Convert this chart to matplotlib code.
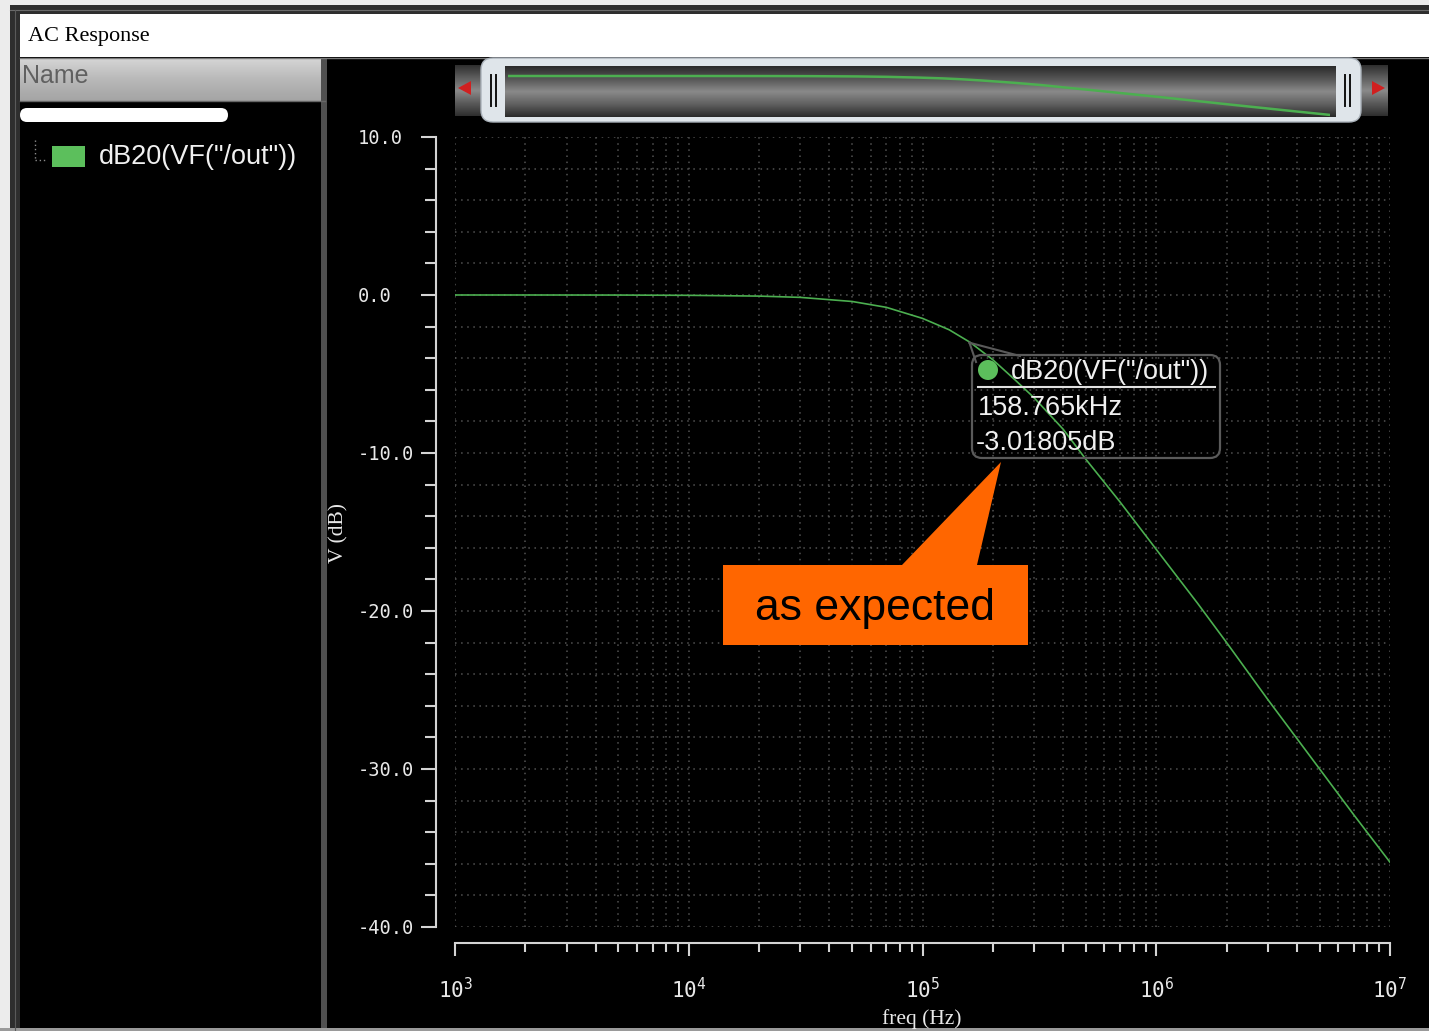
import numpy as np
import matplotlib
matplotlib.use("Agg")
import matplotlib.pyplot as plt
from matplotlib.patches import Rectangle, FancyBboxPatch, Polygon, Circle
from matplotlib.colors import LinearSegmentedColormap
from matplotlib.ticker import LogLocator, MultipleLocator, NullFormatter

plt.rcParams['mathtext.default'] = 'regular'

W, H = 1429, 1031

# ---- data ----
freq_hz = [1e3, 2e3, 5e3, 1e4, 2e4, 3e4, 5e4, 7e4, 1e5, 1.3e5, 1.6e5, 2e5,
           2.5e5, 3e5, 4e5, 5e5, 7e5, 1e6, 1.5e6, 2e6, 3e6, 5e6, 7e6, 1e7]
gain_db = [0.0, 0.0, -0.004, -0.02, -0.07, -0.15, -0.41, -0.78, -1.48, -2.2,
           -3.0, -4.1, -5.4, -6.5, -8.5, -10.4, -13.1, -16.1, -19.5, -22.0,
           -25.6, -30.0, -32.9, -35.9]
y_major = [-40, -30, -20, -10, 0, 10]
y_labels = ['-40.0', '-30.0', '-20.0', '-10.0', '0.0', '10.0']
x_major = [1e3, 1e4, 1e5, 1e6, 1e7]
x_labels = [r'$\mathregular{10^{3}}$', r'$\mathregular{10^{4}}$',
            r'$\mathregular{10^{5}}$', r'$\mathregular{10^{6}}$',
            r'$\mathregular{10^{7}}$']
marker_freq = 158765.0
marker_db = -3.01805
trace_name = 'dB20(VF("/out"))'
window_title = 'AC Response'
x_title = 'freq (Hz)'
y_title = 'V (dB)'
note_text = 'as expected'

GREEN = '#4caf50'
SWATCH = '#5cbf5c'
ORANGE = '#ff6600'
AXC = '#d4d4d4'
SANS = 'Liberation Sans'
SERIF = 'Liberation Serif'
MONO = 'DejaVu Sans Mono'


def fx(x):
    return x / W


def fy(y):
    return 1 - y / H


def rect(ax, x0, y0, x1, y1, color, **kw):
    ax.add_patch(Rectangle((x0, y0), x1 - x0, y1 - y0, facecolor=color,
                           edgecolor='none', **kw))


def vgrad(ax, x0, x1, y0, y1, colors, zorder=1):
    cmap = LinearSegmentedColormap.from_list('g', colors)
    arr = np.linspace(0, 1, 256).reshape(-1, 1)
    ax.imshow(arr, extent=(x0, x1, y1, y0), origin='upper', aspect='auto',
              cmap=cmap, interpolation='bilinear', zorder=zorder)


fig = plt.figure(figsize=(W / 100, H / 100), dpi=100, facecolor='black')

# ---------- window chrome (pixel coordinates) ----------
bg = fig.add_axes([0, 0, 1, 1])
bg.set_facecolor('black')
rect(bg, 0, 0, 10, H, '#ececec')
rect(bg, 0, 0, W, 5, '#ececec')
rect(bg, 10, 5, 20, H, '#2e2e2e')
rect(bg, 10, 5, W, 14, '#2e2e2e')
bg.plot([10, W], [9.5, 9.5], color='#6a6a6a', lw=0.8)
bg.plot([15, 15], [9.5, H], color='#5a5a5a', lw=0.8)
rect(bg, 20, 14, W, 57, 'white')
bg.plot([20, W], [57.5, 57.5], color='#7a7a7a', lw=1)
bg.text(28, 37, window_title, family=SERIF, fontsize=16, color='black',
        ha='left', va='center')

# left panel header
vgrad(bg, 20, 325, 58, 101, ['#d6d6d6', '#b8b8b8', '#a4a4a4'])
bg.plot([20, 325], [101, 101], color='#666666', lw=1)
bg.text(22, 76, 'Name', family=SANS, fontsize=18, color='#606060',
        ha='left', va='center')
bg.add_patch(FancyBboxPatch((20, 108), 208, 14,
                            boxstyle='round,pad=0,rounding_size=7',
                            facecolor='white', edgecolor='none'))
bg.plot([35, 35], [140, 160], color='#8a8a8a', lw=1, ls=(0, (1, 2)))
bg.plot([35, 46], [160, 160], color='#8a8a8a', lw=1, ls=(0, (1, 2)))
rect(bg, 52, 146, 85, 167, SWATCH)
bg.text(99, 157, trace_name, family=SANS, fontsize=19.5, color='#f0f0f0',
        ha='left', va='center')

# divider and bottom border
rect(bg, 321, 58, 327, H, '#505050')
rect(bg, 0, 1028, W, H, '#9a9a9a')

# overview scrollbar
vgrad(bg, 455, 1388, 65, 116, ['#2e2e2e', '#5e5e5e', '#8a8a8a', '#5a5a5a', '#2e2e2e'])
bg.add_patch(Polygon([(458, 88), (471, 81), (471, 95)], closed=True,
                     facecolor='#d02020', edgecolor='none', zorder=2))
bg.add_patch(Polygon([(1385, 88), (1372, 81), (1372, 95)], closed=True,
                     facecolor='#d02020', edgecolor='none', zorder=2))
bg.add_patch(FancyBboxPatch((481, 58), 880, 64,
                            boxstyle='round,pad=0,rounding_size=12',
                            facecolor='#dfe5ea', edgecolor='#aab2ba', lw=1,
                            zorder=3))
vgrad(bg, 505, 1336, 66, 117, ['#2a2a2a', '#555555', '#8a8a8a', '#606060', '#2a2a2a'],
      zorder=4)
for xh in (491, 496, 1345, 1350):
    bg.plot([xh, xh], [75, 106], color='#111111', lw=1.4, zorder=5)

bg.set_xlim(0, W)
bg.set_ylim(H, 0)
bg.axis('off')

# overview trace
ovw = fig.add_axes([fx(508), fy(120), (1330 - 508) / W, 50 / H], zorder=2)
ovw.plot(freq_hz, gain_db, color=GREEN, lw=1.8)
ovw.set_xscale('log')
ovw.set_xlim(1e3, 1e7)
ovw.set_ylim(-40.6, 5.54)
ovw.axis('off')
ovw.patch.set_alpha(0)

# ---------- main plot ----------
ax = fig.add_axes([fx(455), fy(927), 935 / W, 790 / H], zorder=3)
ax.set_facecolor('black')
ax.plot(freq_hz, gain_db, color=GREEN, lw=1.2, zorder=3)
ax.set_xscale('log')
ax.set_xlim(1e3, 1e7)
ax.set_ylim(-40, 10)

for s in ('top', 'right'):
    ax.spines[s].set_visible(False)
ax.spines['left'].set_position(('outward', 19 * 0.72))
ax.spines['bottom'].set_position(('outward', 16 * 0.72))
for s in ('left', 'bottom'):
    ax.spines[s].set_color(AXC)
    ax.spines[s].set_linewidth(1.5)

ax.set_yticks(y_major)
ax.set_yticklabels(y_labels)
ax.yaxis.set_minor_locator(MultipleLocator(2))
ax.set_xticks(x_major)
ax.set_xticklabels(x_labels)
ax.xaxis.set_minor_locator(LogLocator(base=10, subs=np.arange(2, 10)))
ax.xaxis.set_minor_formatter(NullFormatter())

ax.tick_params(axis='y', which='major', direction='out', length=15 * 0.72,
               width=1.5, color=AXC, pad=45.4, labelsize=13.5,
               labelcolor='#e8e8e8', labelfontfamily=MONO)
ax.tick_params(axis='y', which='minor', direction='out', length=11 * 0.72,
               width=1.5, color=AXC)
ax.tick_params(axis='x', which='major', direction='out', length=13 * 0.72,
               width=1.5, color=AXC, pad=15, labelsize=15,
               labelcolor='#e8e8e8', labelfontfamily=MONO)
ax.tick_params(axis='x', which='minor', direction='out', length=9 * 0.72,
               width=1.5, color=AXC)
for lab in ax.get_yticklabels():
    lab.set_horizontalalignment('left')

ax.grid(which='both', color='#535353', linestyle=(0, (1, 3)), linewidth=1.1)

fig.text(fx(922), fy(1019), x_title, family=SERIF, fontsize=15.5,
         color='#e8e8e8', ha='center', va='center')
fig.text(fx(339), fy(533), y_title, family=SERIF, fontsize=15.5,
         color='#e8e8e8', ha='center', va='center', rotation=90)

# ---------- overlay: marker callout and note ----------
top = fig.add_axes([0, 0, 1, 1], zorder=10)
top.set_xlim(0, W)
top.set_ylim(H, 0)
top.axis('off')
top.patch.set_alpha(0)

tip = top.transData.inverted().transform(
    ax.transData.transform((marker_freq, marker_db)))
top.plot([tip[0], 1020], [tip[1], 356], color='#5a5a5a', lw=1.5)
top.plot([tip[0], 976], [tip[1], 362], color='#5a5a5a', lw=1.5)
top.add_patch(FancyBboxPatch((972, 355), 248, 103,
                             boxstyle='round,pad=0,rounding_size=10',
                             facecolor='none', edgecolor='#5a5a5a', lw=1.6))
top.add_patch(Circle((988, 370), 10, facecolor=SWATCH, edgecolor='none'))
top.text(1011, 372, trace_name, family=SANS, fontsize=19.5, color='#f0f0f0',
         ha='left', va='center')
top.plot([978, 1215], [387, 387], color='#e0e0e0', lw=1.5)
top.text(978, 408, f'{marker_freq / 1e3:.3f}kHz', family=SANS, fontsize=19.5,
         color='#f0f0f0', ha='left', va='center')
top.text(976, 443, f'{marker_db:.5f}dB', family=SANS, fontsize=19.5,
         color='#f0f0f0', ha='left', va='center')

top.add_patch(Polygon([(723, 645), (723, 565), (902, 565), (1001, 462),
                       (977, 565), (1028, 565), (1028, 645)], closed=True,
                      facecolor=ORANGE, edgecolor='none'))
top.text(875.5, 620, note_text, family=SANS, fontsize=32, color='black',
         ha='center', va='baseline')

fig.savefig('out.png', dpi=100, facecolor='black')
